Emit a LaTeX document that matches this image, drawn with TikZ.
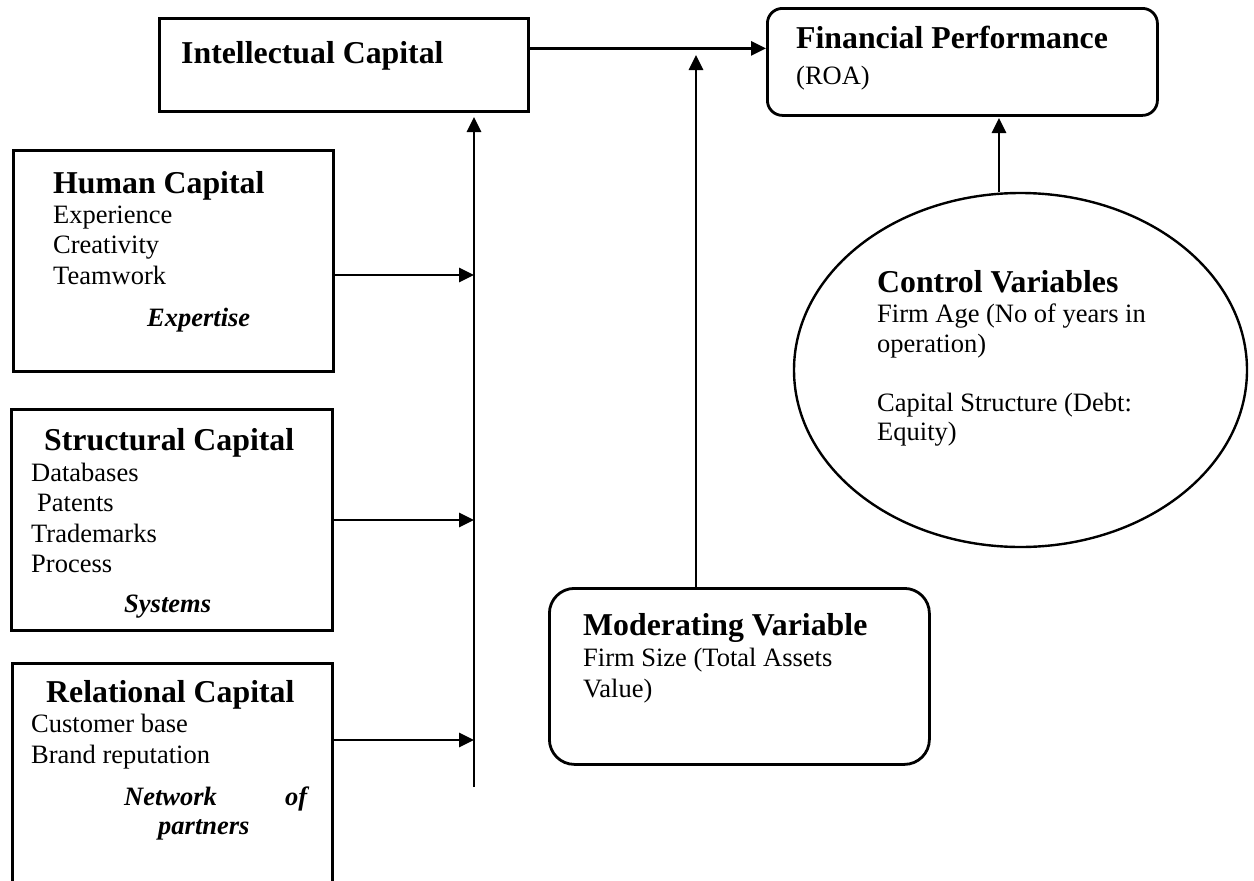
\documentclass[tikz,border=0pt]{standalone}
\usepackage{fontspec}
\setmainfont{Liberation Serif}
\usetikzlibrary{arrows.meta,shapes.geometric}
\begin{document}
\begin{tikzpicture}[x=1pt,y=-1pt,
  box/.style={draw, line width=2.8pt, inner sep=0pt, anchor=north west},
  hd/.style={anchor=base west, inner sep=0pt, font=\fontsize{31.8}{36}\selectfont\bfseries},
  tx/.style={anchor=base west, inner sep=0pt, font=\fontsize{26.5}{30}\selectfont},
  emph/.style={anchor=base west, inner sep=0pt, font=\fontsize{26.5}{30}\selectfont\bfseries\itshape},
  arr/.style={-{Triangle[length=15pt,width=14pt]}, line width=2.8pt}]
\useasboundingbox (0,0) rectangle (1254,881);
\clip (0,0) rectangle (1254,881);

% boxes
\node[box, minimum width=369pt, minimum height=93pt] (ic) at (158,17) {};
\node[box, rounded corners=15pt, minimum width=390pt, minimum height=107pt] (fp) at (766,7) {};
\node[box, minimum width=320pt, minimum height=221pt] (hc) at (12,149) {};
\node[box, minimum width=321pt, minimum height=221pt] (sc) at (10,408) {};
\node[box, minimum width=320pt, minimum height=260pt] (rc) at (11,662) {};
\node[box, rounded corners=25pt, minimum width=380pt, minimum height=176pt] (mv) at (548,587) {};
\node[draw, ellipse, line width=2.4pt, inner sep=0pt, minimum width=453pt, minimum height=354pt] (cv) at (1020.5,370) {};

% texts
\node[hd] (ict) at (181,63) {Intellectual Capital};
\node[hd] (fpt) at (796,48) {Financial Performance};
\node[tx] (fpt2) at (796,84) {(ROA)};

\node[hd] (hct) at (53,193) {Human Capital};
\node[tx] (hc1) at (53,223) {Experience};
\node[tx] (hc2) at (53,253) {Creativity};
\node[tx] (hc3) at (53,284) {Teamwork};
\node[emph] (hc4) at (147,326) {Expertise};

\node[hd] (sct) at (44,450) {Structural Capital};
\node[tx] (sc1) at (31,481) {Databases};
\node[tx] (sc2) at (37,511) {Patents};
\node[tx] (sc3) at (31,542) {Trademarks};
\node[tx] (sc4) at (31,572) {Process};
\node[emph] (sc5) at (124,612) {Systems};

\node[hd] (rct) at (46,702) {Relational Capital};
\node[tx] (rc1) at (31,732) {Customer base};
\node[tx] (rc2) at (31,763) {Brand reputation};
\node[emph] (rc3) at (124,805) {\hbox to 183pt{Network\hfil of}};
\node[emph] (rc4) at (158,834) {partners};

\node[hd] (mvt) at (583,635) {Moderating Variable};
\node[tx] (mv1) at (583,666) {Firm Size (Total Assets};
\node[tx] (mv2) at (583,697) {Value)};

\node[hd] (cvt) at (877,292) {Control Variables};
\node[tx] (cv1) at (877,322) {Firm Age (No of years in};
\node[tx] (cv2) at (877,352) {operation)};
\node[tx] (cv3) at (877,411) {Capital Structure (Debt:};
\node[tx] (cv4) at (877,440) {Equity)};

% connector points
\coordinate (bustop) at (474,117);
\coordinate (busbot) at (474,787);
\coordinate (hj) at (474,275);
\coordinate (sj) at (474,520);
\coordinate (rj) at (474,740);
\coordinate (mtip) at (696,55);
\coordinate (ctip) at (999,118);

% connectors
\draw[arr] ([yshift=16.5pt]ic.east) -- ([yshift=16.5pt]ic.east -| fp.west);
\draw[arr] (busbot) -- (bustop);
\draw[arr] (hj -| hc.east) -- (hj);
\draw[arr] (sj -| sc.east) -- (sj);
\draw[arr] (rj -| rc.east) -- (rj);
\draw[arr] (mv.north -| mtip) -- (mtip);
\draw[arr] (cv.north -| ctip) -- (ctip);
\end{tikzpicture}
\end{document}
